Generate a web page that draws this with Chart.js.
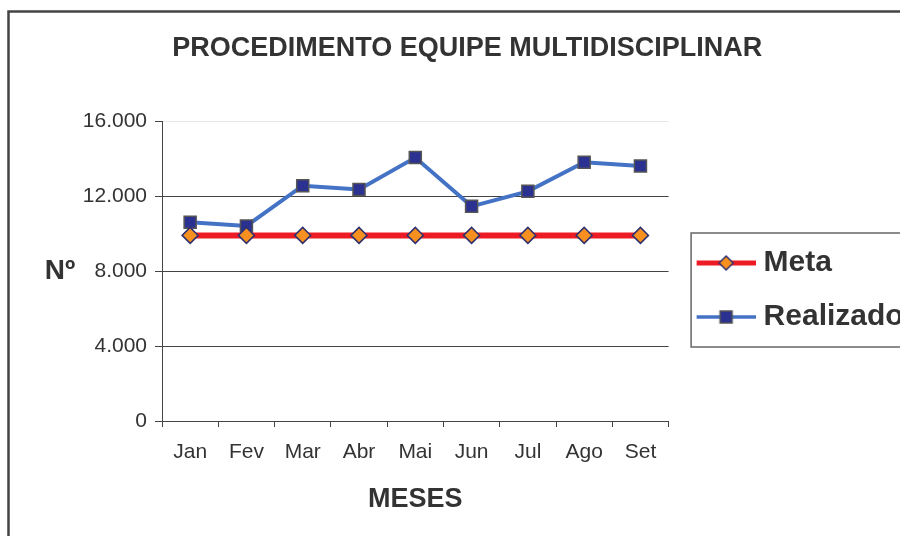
<!DOCTYPE html>
<html>
<head>
<meta charset="utf-8">
<script src="https://cdn.jsdelivr.net/npm/chart.js@4"></script>
<style>
  html, body { margin: 0; padding: 0; background: #fff; overflow: hidden; }
  canvas { display: block; }
</style>
</head>
<body>
<canvas id="chart" width="900" height="536"></canvas>
<script>
const months = ["Jan", "Fev", "Mar", "Abr", "Mai", "Jun", "Jul", "Ago", "Set"];
const meta = [9900, 9900, 9900, 9900, 9900, 9900, 9900, 9900, 9900];
const realizado = [10600, 10400, 12550, 12350, 14050, 11450, 12250, 13800, 13600];
const yTicks = [0, 4000, 8000, 12000, 16000];

const FONT = '"Liberation Sans", Arial, sans-serif';
const TXT = '#333333';

// little line+marker pictures for the legend
function legendIcon(color, width, marker) {
  const c = document.createElement('canvas');
  c.width = 70; c.height = 20;
  const g = c.getContext('2d');
  g.strokeStyle = color; g.lineWidth = width;
  g.beginPath(); g.moveTo(11, 10); g.lineTo(70, 10); g.stroke();
  marker(g, 40.5, 10);
  return c;
}
const metaIcon = legendIcon('#ed1c24', 5, (g, x, y) => {
  g.beginPath();
  g.moveTo(x, y - 7); g.lineTo(x + 7, y); g.lineTo(x, y + 7); g.lineTo(x - 7, y); g.closePath();
  g.fillStyle = '#f7901e'; g.fill();
  g.lineWidth = 1.5; g.strokeStyle = '#2e3170'; g.stroke();
});
const realIcon = legendIcon('#4472c4', 3.5, (g, x, y) => {
  g.fillStyle = '#2b3190'; g.fillRect(x - 6, y - 6, 12, 12);
  g.lineWidth = 1.5; g.strokeStyle = '#555555'; g.strokeRect(x - 6, y - 6, 12, 12);
});
const icons = [metaIcon, realIcon];

const fmt = v => String(v).replace(/\B(?=(\d{3})+(?!\d))/g, '.');

const frame = {
  id: 'frame',
  beforeDraw(chart) {
    const c = chart.ctx;
    c.save();
    c.fillStyle = '#fff';
    c.fillRect(0, 0, chart.width, chart.height);
    c.lineWidth = 2.5;
    c.strokeStyle = '#444';
    c.strokeRect(8.5, 11.5, 1000, 1000);
    c.restore();
  },
  afterDraw(chart) {
    const c = chart.ctx;
    const lg = chart.legend;
    const hb = lg.legendHitBoxes;
    c.save();
    // legend frame
    c.lineWidth = 1.5;
    c.strokeStyle = '#666';
    const top = hb[0].top - 15;
    const bottom = hb[hb.length - 1].top + hb[hb.length - 1].height + 15;
    c.strokeRect(lg.left + 22.5, top, 400, bottom - top);
    // horizontal y title
    c.fillStyle = TXT;
    c.font = 'bold 28px ' + FONT;
    c.textAlign = 'center';
    c.textBaseline = 'middle';
    c.fillText('Nº', 60, chart.scales.y.getPixelForValue(8000));
    c.restore();
  }
};

new Chart(document.getElementById('chart'), {
  type: 'line',
  data: {
    labels: months,
    datasets: [
      {
        label: 'Meta',
        data: meta,
        borderColor: '#ed1c24',
        borderWidth: 6,
        pointStyle: 'rectRot',
        pointRadius: 8,
        pointBackgroundColor: '#f7901e',
        pointBorderColor: '#2e3170',
        pointBorderWidth: 1.5,
        tension: 0
      },
      {
        label: 'Realizado',
        data: realizado,
        borderColor: '#4472c4',
        borderWidth: 4,
        pointStyle: 'rect',
        pointRadius: 8.5,
        pointBackgroundColor: '#2b3190',
        pointBorderColor: '#555555',
        pointBorderWidth: 1.5,
        tension: 0
      }
    ]
  },
  options: {
    responsive: false,
    animation: false,
    devicePixelRatio: 1,
    layout: { padding: { left: -25.6, top: 0, right: 0, bottom: 0 } },
    plugins: {
      title: {
        display: true,
        text: '        PROCEDIMENTO EQUIPE MULTIDISCIPLINAR',
        color: TXT,
        font: { family: FONT, size: 27, weight: 'bold' },
        padding: { top: 32, bottom: 56.6 }
      },
      legend: {
        position: 'right',
        fullSize: false,
        title: { display: true, text: ' ', font: { size: 1 }, padding: { top: 36.8, bottom: 0 } },
        labels: {
          usePointStyle: true,
          pointStyleWidth: 56,
          padding: 24,
          color: TXT,
          font: { family: FONT, size: 30, weight: 'bold' },
          generateLabels(chart) {
            return Chart.defaults.plugins.legend.labels.generateLabels(chart)
              .map((it, i) => Object.assign(it, { pointStyle: icons[i] }));
          }
        }
      },
      tooltip: { enabled: false }
    },
    scales: {
      x: {
        offset: true,
        grid: { offset: true, drawOnChartArea: false, drawTicks: true, tickLength: 6, tickColor: '#444' },
        border: { color: '#444', width: 1 },
        ticks: { color: TXT, padding: 13, font: { family: FONT, size: 21 } },
        title: {
          display: true, text: 'MESES', color: TXT,
          font: { family: FONT, size: 27, weight: 'bold' },
          padding: { top: 0, bottom: 20 }
        },
        afterFit(s) { s.height = 115; }
      },
      y: {
        min: 0,
        max: 16000,
        afterBuildTicks(s) { s.ticks = yTicks.map(v => ({ value: v })); },
        grid: {
          color: ctx => (ctx.tick && ctx.tick.value === 16000 ? '#e6e6e6' : '#444'),
          tickColor: '#444',
          tickLength: 7,
          lineWidth: 1
        },
        border: { color: '#444', width: 1 },
        ticks: { color: TXT, padding: 8, font: { family: FONT, size: 21 }, callback: v => fmt(v) },
        afterFit(s) { s.width = 187.6; }
      }
    }
  },
  plugins: [frame]
});
</script>
</body>
</html>
